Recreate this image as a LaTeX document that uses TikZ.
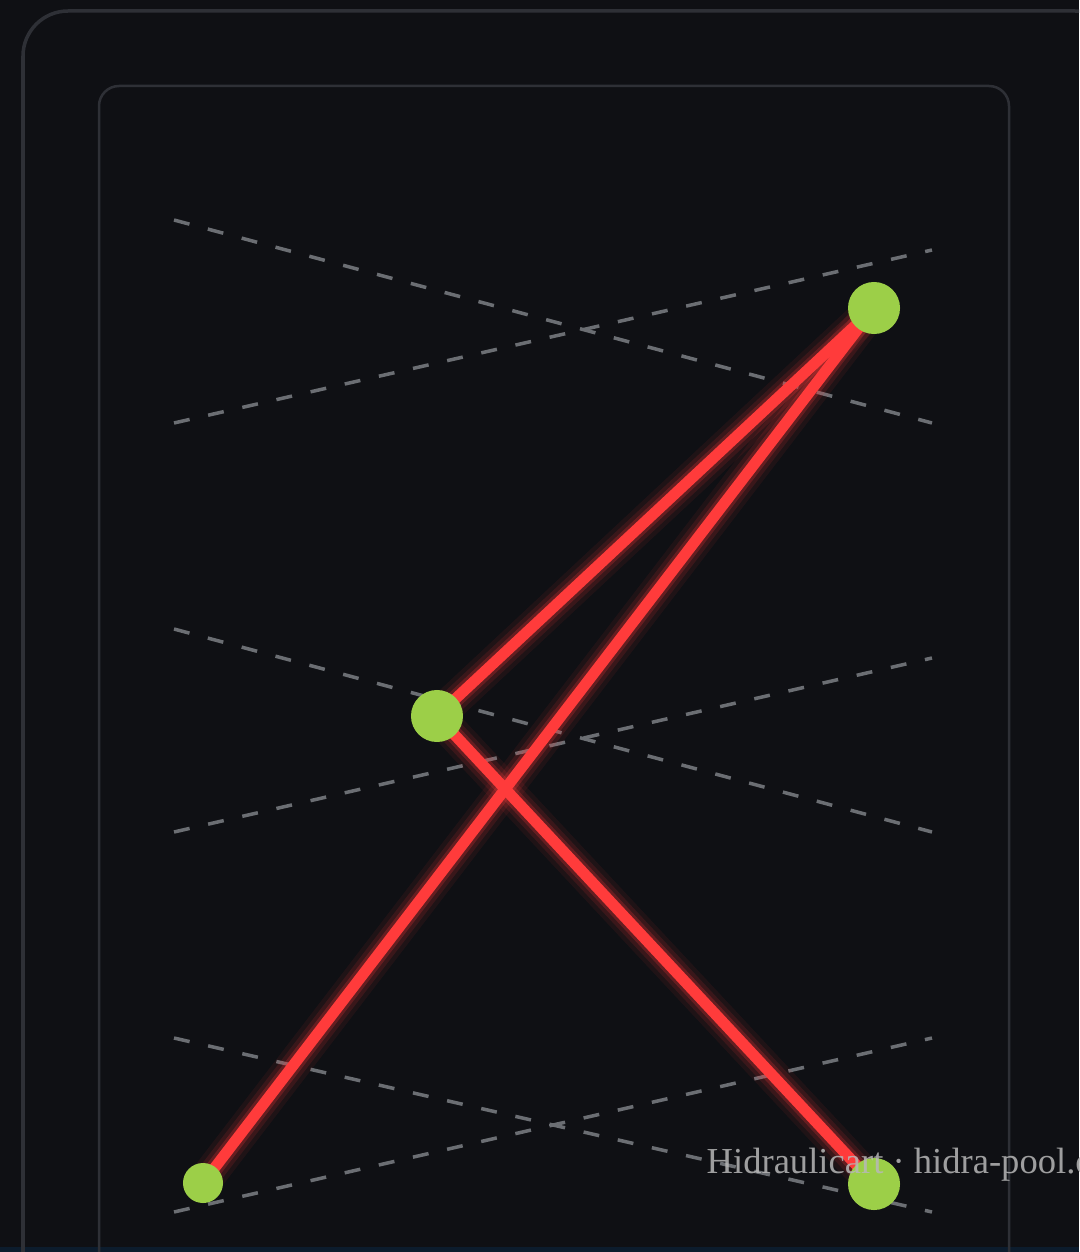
\documentclass[tikz,border=0pt]{standalone}
\usepackage{fontspec}
\usepackage{tikz}
\usetikzlibrary{positioning,calc}
\newfontfamily\wmfont{Liberation Serif}
\definecolor{cBack} {HTML}{0F1014}
\definecolor{cStrip}{HTML}{0C1C2D}
\definecolor{cFrame}{HTML}{2E3036}
\definecolor{cGuide}{HTML}{6B6E73}
\definecolor{cRed}  {HTML}{FF3B3B}
\definecolor{cDot}  {HTML}{9CCF48}
\definecolor{cMark} {HTML}{B8B8B8}
\tikzset{
  sframe/.style={draw=cFrame,line width=0.035cm},
  sguide/.style={draw=cGuide,line width=0.035cm,dash pattern=on 0.16cm off 0.19cm},
  sline/.style ={draw=cRed,line width=0.11cm,line cap=round,
                 preaction={draw=cRed,opacity=0.07,line width=0.34cm,line cap=round},
                 preaction={draw=cRed,opacity=0.12,line width=0.25cm,line cap=round},
                 preaction={draw=cRed,opacity=0.22,line width=0.17cm,line cap=round}},
  spt/.style   ={circle,fill=cDot,inner sep=0pt,minimum size=0.52cm},
  swm/.style   ={font=\wmfont\fontsize{10.4pt}{12pt}\selectfont,text=cMark,
                 opacity=0.85,inner sep=0pt},
}
\begin{document}
\begin{tikzpicture}[x=0.01cm,y=-0.01cm]
        \useasboundingbox (0,0) rectangle (1079,1252);
        \clip (0,0) rectangle (1079,1252);
        \fill[cBack] (0,0) rectangle (1079,1252);
        \fill[cStrip] (0,1247) rectangle (1079,1252);
        % frames
        \draw[sframe,rounded corners=0.45cm] (23,11) rectangle (1120,1320);
        \draw[sframe,line width=0.025cm,rounded corners=0.2cm] (99,86) rectangle (1009,1320);
        % guides
        \foreach \ya/\yb in {220/423,423/250,629/832,832/658,1038/1212,1212/1038}
          \draw[sguide] (174,\ya) -- (932,\yb);
        % points
        \coordinate (top)  at (874,308);
        \coordinate (mid)  at (437,716);
        \coordinate (botl) at (203,1183);
        \coordinate (botr) at (874,1184);
        \draw[sline] (top) -- (mid);
        \draw[sline] (top) -- (botl);
        \draw[sline] (mid) -- (botr);
        \node[spt] (ptop)  at (top)  {};
        \node[spt] (pmid)  at (mid)  {};
        \node[spt,minimum size=0.4cm] (pbotl) at (botl) {};
        \node[spt] (pbotr) at (botr) {};
        \node[swm,anchor=base west] (wm) at (706,1173) {Hidraulicart · hidra-pool.com};
      \end{tikzpicture}
\end{document}
